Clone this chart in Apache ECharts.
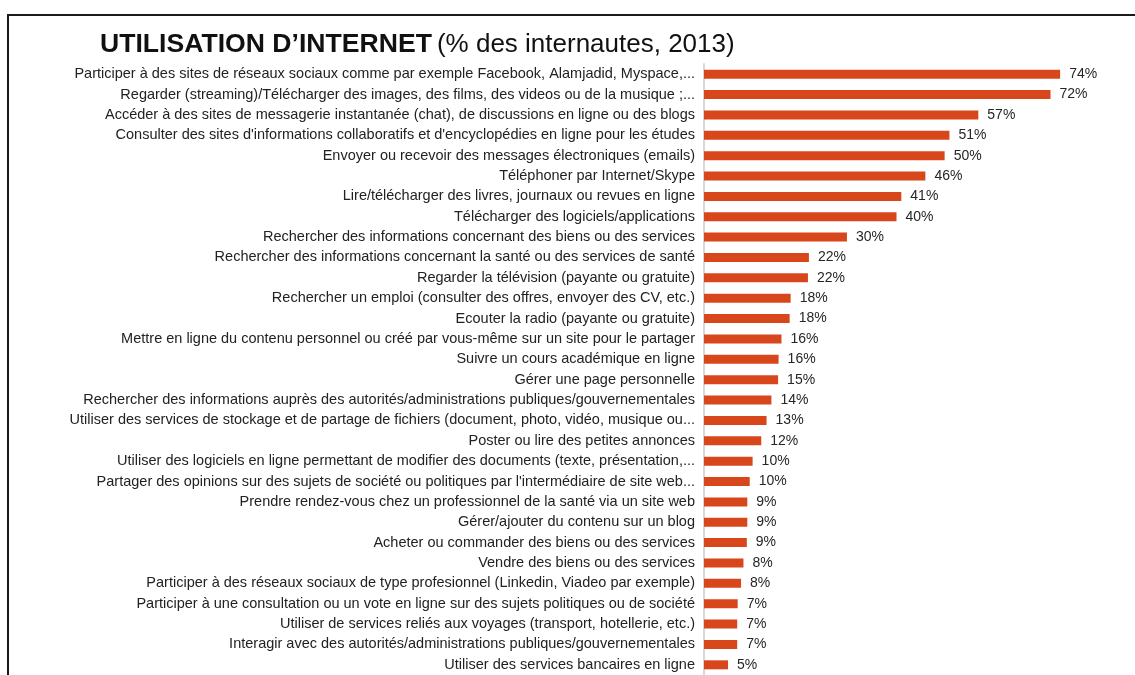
<!DOCTYPE html>
<html>
<head>
<meta charset="utf-8">
<script src="https://cdn.jsdelivr.net/npm/echarts@6/dist/echarts.min.js"></script>
<style>
  html, body { margin: 0; padding: 0; background: #fff; }
  #chart { width: 1135px; height: 675px; }
</style>
</head>
<body>
<div id="chart"></div>
<script>
// usages (from top to bottom)
const usages = [
  'Participer à des sites de réseaux sociaux comme par exemple Facebook, Alamjadid, Myspace,...',
  'Regarder (streaming)/Télécharger des images, des films, des videos ou de la musique ;...',
  'Accéder à des sites de messagerie instantanée (chat), de discussions en ligne ou des blogs',
  "Consulter des sites d'informations collaboratifs et d'encyclopédies en ligne pour les études",
  'Envoyer ou recevoir des messages électroniques (emails)',
  'Téléphoner par Internet/Skype',
  'Lire/télécharger des livres, journaux ou revues en ligne',
  'Télécharger des logiciels/applications',
  'Rechercher des informations concernant des biens ou des services',
  'Rechercher des informations concernant la santé ou des services de santé',
  'Regarder la télévision (payante ou gratuite)',
  'Rechercher un emploi (consulter des offres, envoyer des CV, etc.)',
  'Ecouter la radio (payante ou gratuite)',
  'Mettre en ligne du contenu personnel ou créé par vous-même sur un site pour le partager',
  'Suivre un cours académique en ligne',
  'Gérer une page personnelle',
  'Rechercher des informations auprès des autorités/administrations publiques/gouvernementales',
  'Utiliser des services de stockage et de partage de fichiers (document, photo, vidéo, musique ou...',
  'Poster ou lire des petites annonces',
  'Utiliser des logiciels en ligne permettant de modifier des documents (texte, présentation,...',
  "Partager des opinions sur des sujets de société ou politiques par l'intermédiaire de site web...",
  'Prendre rendez-vous chez un professionnel de la santé via un site web',
  'Gérer/ajouter du contenu sur un blog',
  'Acheter ou commander des biens ou des services',
  'Vendre des biens ou des services',
  'Participer à des réseaux sociaux de type profesionnel (Linkedin, Viadeo par exemple)',
  'Participer à une consultation ou un vote en ligne sur des sujets politiques ou de société',
  'Utiliser de services reliés aux voyages (transport, hotellerie, etc.)',
  'Interagir avec des autorités/administrations publiques/gouvernementales',
  'Utiliser des services bancaires en ligne'
];

// % des internautes (labels are rounded)
const pcts = [74, 72, 57, 51, 50, 46, 41, 40, 29.7, 21.8, 21.6, 18, 17.8, 16.1, 15.5, 15.4,
  14, 13, 11.9, 10.1, 9.5, 9, 9, 8.9, 8.2, 7.7, 7, 6.9, 6.9, 5];

const myChart = echarts.init(document.getElementById('chart'));

let option = {
  animation: false,
  textStyle: { fontFamily: 'Arial, "Liberation Sans", sans-serif' },
  title: {
    left: 95,
    top: 26,
    text: '{b|UTILISATION D’INTERNET} {n|(% des internautes, 2013)}',
    textStyle: {
      fontWeight: 'normal',
      rich: {
        b: { fontSize: 26.6, fontWeight: 'bold', color: '#111' },
        n: { fontSize: 26, fontWeight: 'normal', color: '#111' }
      }
    }
  },
  graphic: [{
    type: 'rect',
    shape: { x: 8, y: 15, width: 1300, height: 800 },
    style: { fill: 'none', stroke: '#1a1a1a', lineWidth: 2 },
    silent: true
  }],
  grid: { left: 704, top: 64, width: 385, height: 613.5 },
  xAxis: {
    type: 'value',
    min: 0,
    max: 80,
    show: false
  },
  yAxis: {
    type: 'category',
    inverse: true,
    data: usages,
    axisLine: { lineStyle: { color: '#d9d9d9', width: 2 } },
    axisTick: { show: false },
    axisLabel: { color: '#222', fontSize: 14.5, margin: 9 }
  },
  series: [{
    type: 'bar',
    data: pcts,
    barWidth: 9,
    itemStyle: { color: '#d8471c' },
    label: {
      show: true,
      position: 'right',
      distance: 9,
      fontSize: 14,
      color: '#262626',
      formatter: p => Math.round(p.value) + '%'
    }
  }]
};

myChart.setOption(option);
</script>
</body>
</html>
